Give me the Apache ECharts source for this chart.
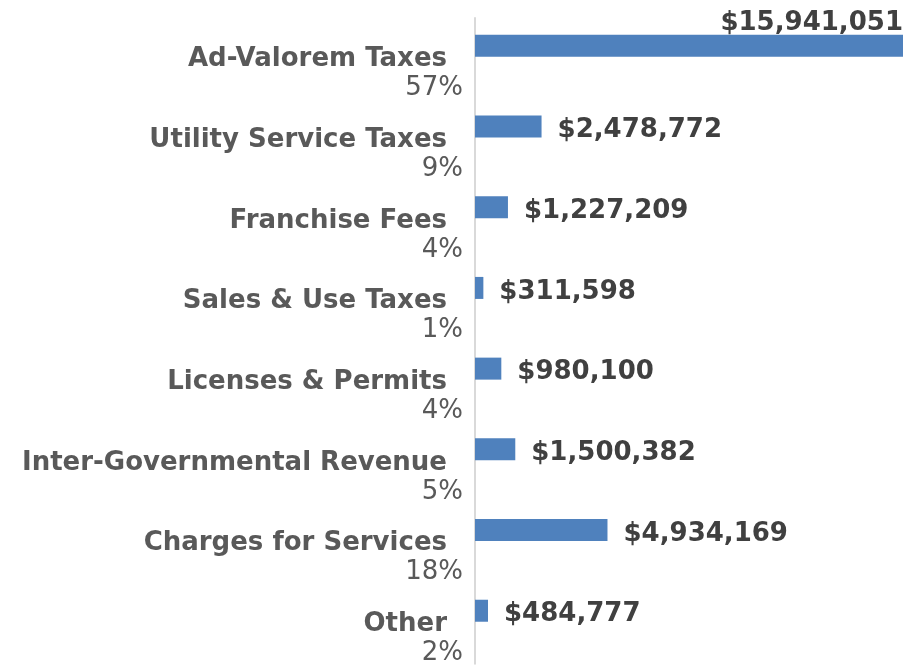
<!DOCTYPE html>
<html>
<head>
<meta charset="utf-8">
<script src="https://cdn.jsdelivr.net/npm/echarts@6/dist/echarts.min.js"></script>
<style>
  html, body { margin: 0; padding: 0; background: #fff; }
  #chart { width: 912px; height: 666px; }
</style>
</head>
<body>
<div id="chart"></div>
<script>
const categories = ['Ad-Valorem Taxes', 'Utility Service Taxes', 'Franchise Fees', 'Sales & Use Taxes',
  'Licenses & Permits', 'Inter-Governmental Revenue', 'Charges for Services', 'Other'];
const shares = ['57%', '9%', '4%', '1%', '4%', '5%', '18%', '2%'];
const revenue = [15941051, 2478772, 1227209, 311598, 980100, 1500382, 4934169, 484777];

const fmt = v => '$' + v.toLocaleString('en-US');
const font = 'DejaVu Sans, Verdana, sans-serif';

const chart = echarts.init(document.getElementById('chart'));
chart.setOption({
  backgroundColor: '#fff',
  animation: false,
  grid: { left: 475, right: 9, top: 18, bottom: -2, containLabel: false },
  xAxis: { type: 'value', min: 0, max: 'dataMax', show: false },
  yAxis: {
    type: 'category',
    data: categories,
    inverse: true,
    axisLine: { lineStyle: { color: '#d9d9d9', width: 2 } },
    axisTick: { show: false },
    axisLabel: {
      margin: 12,
      padding: [31, 0, 0, 0],
      formatter: (name, i) => '{n|' + name + '}\n{p|' + shares[i] + '}',
      rich: {
        n: { fontFamily: font, fontWeight: 'bold', fontSize: 26, color: '#595959', lineHeight: 29, padding: [0, 16, 0, 0], align: 'right' },
        p: { fontFamily: font, fontSize: 26, color: '#595959', lineHeight: 29, align: 'right' }
      }
    }
  },
  series: [
    {
      type: 'bar',
      data: revenue.map((v, i) => i === 0
        ? { value: v, label: { position: ['100%', 0], align: 'right', verticalAlign: 'bottom', offset: [0, 1] } }
        : v),
      barWidth: 22,
      barGap: '14%',
      itemStyle: { color: '#4F81BD' },
      label: {
        show: true,
        position: 'right',
        distance: 16,
        offset: [0, 4],
        formatter: p => fmt(p.value),
        fontFamily: font,
        fontWeight: 'bold',
        fontSize: 26,
        color: '#404040'
      }
    },
    {
      type: 'bar',
      data: revenue.map(() => 0),
      barWidth: 22,
      itemStyle: { color: 'transparent' },
      silent: true
    }
  ]
});
</script>
</body>
</html>
